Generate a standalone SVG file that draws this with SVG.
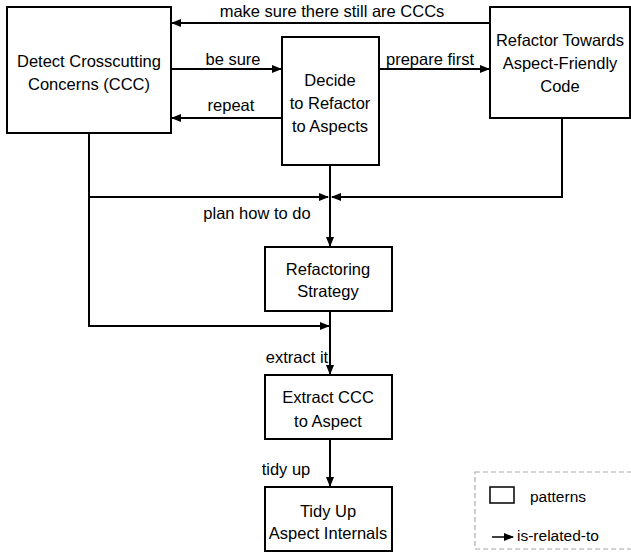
<svg xmlns="http://www.w3.org/2000/svg" width="631" height="552" viewBox="0 0 631 552">
<style>
.box{fill:#fff;stroke:#000;stroke-width:2}
.t{font-family:"Liberation Sans",Arial,sans-serif;font-size:16.5px;fill:#000;text-anchor:middle}
.l{font-family:"Liberation Sans",Arial,sans-serif;font-size:15.5px;fill:#000}
.c{fill:none;stroke:#000;stroke-width:2}
</style>
<defs>
<marker id="ah" markerWidth="10" markerHeight="8" refX="9" refY="4" orient="auto" markerUnits="userSpaceOnUse">
<path d="M0,0 L10,4 L0,8 Z" fill="#000"/>
</marker>
</defs>
<rect x="0" y="0" width="631" height="552" fill="#fff"/>
<g id="connectors">
<path class="c" d="M490,23 H172" marker-end="url(#ah)"/>
<path class="c" d="M171,69 H281" marker-end="url(#ah)"/>
<path class="c" d="M282,118 H172" marker-end="url(#ah)"/>
<path class="c" d="M379,69 H489" marker-end="url(#ah)"/>
<path class="c" d="M330,165 V246" marker-end="url(#ah)"/>
<path class="c" d="M89,133 V326 H329" marker-end="url(#ah)"/>
<path class="c" d="M89,197 H328" marker-end="url(#ah)"/>
<path class="c" d="M562,118 V197 H332" marker-end="url(#ah)"/>
<path class="c" d="M330,311 V374" marker-end="url(#ah)"/>
<path class="c" d="M330,439 V486" marker-end="url(#ah)"/>
<text class="t" x="332" y="17">make sure there still are CCCs</text>
<text class="t" x="233" y="65">be sure</text>
<text class="t" x="231" y="111">repeat</text>
<text class="t" x="430" y="65">prepare first</text>
<text class="t" x="257" y="219">plan how to do</text>
<text class="t" x="297" y="363">extract it</text>
<text class="t" x="286" y="475">tidy up</text>
</g>
<g id="detect">
<rect class="box" x="7" y="7" width="164" height="126"/>
<text class="t" x="89" y="67">Detect Crosscutting</text>
<text class="t" x="89" y="90">Concerns (CCC)</text>
</g>
<g id="decide">
<rect class="box" x="282" y="37" width="97" height="128"/>
<text class="t" x="330" y="86">Decide</text>
<text class="t" x="330" y="109">to Refactor</text>
<text class="t" x="330" y="132">to Aspects</text>
</g>
<g id="towards">
<rect class="box" x="490" y="7" width="140" height="111"/>
<text class="t" x="560" y="46">Refactor Towards</text>
<text class="t" x="560" y="69">Aspect-Friendly</text>
<text class="t" x="560" y="92">Code</text>
</g>
<g id="strategy">
<rect class="box" x="265" y="247" width="127" height="64"/>
<text class="t" x="328" y="275">Refactoring</text>
<text class="t" x="328" y="297">Strategy</text>
</g>
<g id="extract">
<rect class="box" x="265" y="375" width="127" height="64"/>
<text class="t" x="328" y="403">Extract CCC</text>
<text class="t" x="328" y="427">to Aspect</text>
</g>
<g id="tidy">
<rect class="box" x="265" y="487" width="127" height="64"/>
<text class="t" x="328" y="517">Tidy Up</text>
<text class="t" x="328" y="539">Aspect Internals</text>
</g>
<g id="legend">
<rect x="475" y="472" width="160" height="77" fill="none" stroke="#aaa" stroke-width="1.2" stroke-dasharray="5,3"/>
<rect x="490" y="487" width="24" height="16" fill="#fff" stroke="#000" stroke-width="1.5"/>
<text class="l" x="530" y="502">patterns</text>
<path d="M492,537 H513" stroke="#000" stroke-width="1.5" fill="none" marker-end="url(#ah)"/>
<text class="l" x="517" y="541">is-related-to</text>
</g>
</svg>
